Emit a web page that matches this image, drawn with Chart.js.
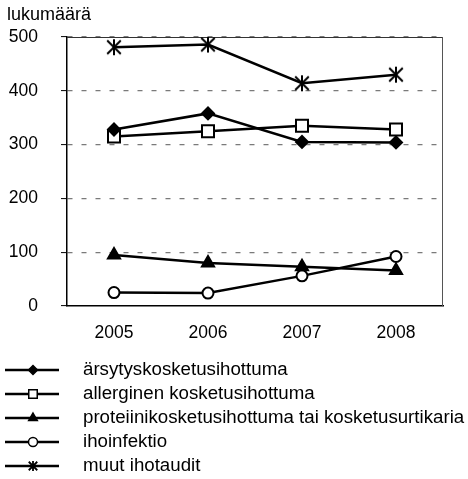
<!DOCTYPE html>
<html>
<head>
<meta charset="utf-8">
<script src="https://cdn.jsdelivr.net/npm/chart.js@4/dist/chart.umd.min.js"></script>
<style>
  html, body { margin: 0; padding: 0; background: #fff; }
  #wrap { width: 468px; height: 479px; position: relative; }
</style>
</head>
<body>
<div id="wrap"><canvas id="chart"></canvas></div>
<script>
// Data
const years = ['2005', '2006', '2007', '2008'];
const seriesNames = [
    'ärsytyskosketusihottuma',
    'allerginen kosketusihottuma',
    'proteiinikosketusihottuma tai kosketusurtikaria',
    'ihoinfektio',
    'muut ihotaudit'
];
const arsytys = [328, 358, 305, 304];
const allerginen = [315, 325, 335, 328];
const proteiini = [95, 80, 73, 66];
const ihoinfektio = [25, 24, 56, 92];
const muut = [481, 486, 414, 430];
const yTicks = [0, 100, 200, 300, 400, 500];

const FONT = "'Liberation Sans', Arial, sans-serif";

// Excel-like asterisk marker: an X plus a vertical stroke
function makeAsterisk(r, lw) {
    const size = Math.ceil(r * 2 + lw * 2);
    const c = document.createElement('canvas');
    c.width = size;
    c.height = size;
    const g = c.getContext('2d');
    const m = size / 2;
    g.strokeStyle = '#000';
    g.lineWidth = lw;
    g.lineCap = 'butt';
    g.beginPath();
    g.moveTo(m, m - r); g.lineTo(m, m + r);
    g.moveTo(m - r * 0.85, m - r * 0.85); g.lineTo(m + r * 0.85, m + r * 0.85);
    g.moveTo(m + r * 0.85, m - r * 0.85); g.lineTo(m - r * 0.85, m + r * 0.85);
    g.stroke();
    return c;
}
const starBig = makeAsterisk(8, 2);
const starSmall = makeAsterisk(5, 1.8);

// marker look per series: chart markers and smaller legend markers
const markers = [
    { style: 'rectRot', radius: 6, fill: '#000', legendRadius: 4.5 },
    { style: 'rect', radius: 8.5, fill: '#fff', legendRadius: 6 },
    { style: 'triangle', radius: 7, fill: '#000', legendRadius: 5 },
    { style: 'circle', radius: 5.5, fill: '#fff', legendRadius: 4.5 },
    { style: starBig, radius: 7, fill: '#000', legendRadius: 4.5, legendStyle: starSmall }
];

const values = [arsytys, allerginen, proteiini, ihoinfektio, muut];

const datasets = values.map((v, i) => ({
    label: seriesNames[i],
    data: v,
    borderColor: '#000',
    borderWidth: 2.5,
    pointStyle: markers[i].style,
    pointRadius: markers[i].radius,
    pointHoverRadius: markers[i].radius,
    pointBackgroundColor: markers[i].fill,
    pointBorderColor: '#000',
    pointBorderWidth: 2,
    tension: 0,
    fill: false
}));

// draws the frame, the axis title and the legend below the plot
const extras = {
    id: 'extras',
    beforeDatasetsDraw(chart) {
        const ctx = chart.ctx;
        const a = chart.chartArea;
        ctx.save();
        ctx.lineWidth = 1;
        ctx.strokeStyle = '#333';
        ctx.beginPath();
        ctx.moveTo(a.left, a.top + 0.5);
        ctx.lineTo(a.right, a.top + 0.5);
        ctx.stroke();
        ctx.strokeStyle = '#555';
        ctx.beginPath();
        ctx.moveTo(a.right - 0.5, a.top);
        ctx.lineTo(a.right - 0.5, a.bottom);
        ctx.stroke();
        ctx.restore();
    },
    afterDraw(chart) {
        const ctx = chart.ctx;
        ctx.save();
        ctx.fillStyle = '#000';
        ctx.font = '18px ' + FONT;
        ctx.textBaseline = 'middle';
        ctx.textAlign = 'left';
        ctx.fillText('lukumäärä', 7, 15);

        // legend
        ctx.font = '18.7px ' + FONT;
        chart.data.datasets.forEach((ds, i) => {
            const y = 370 + i * 24;
            ctx.strokeStyle = '#000';
            ctx.lineWidth = 2.5;
            ctx.beginPath();
            ctx.moveTo(5, y);
            ctx.lineTo(59, y);
            ctx.stroke();
            ctx.fillStyle = markers[i].fill;
            ctx.lineWidth = 1.5;
            Chart.helpers.drawPoint(ctx, {
                pointStyle: markers[i].legendStyle || markers[i].style,
                radius: markers[i].legendRadius,
                borderWidth: 1.5,
                rotation: 0
            }, 33, y);
            ctx.fillStyle = '#000';
            ctx.fillText(ds.label, 83, y);
        });
        ctx.restore();
    }
};

new Chart(document.getElementById('chart'), {
    type: 'line',
    data: { labels: years, datasets: datasets },
    options: {
        responsive: true,
        maintainAspectRatio: false,
        animation: false,
        layout: { padding: { left: 0, right: 25, top: 37, bottom: 0 } },
        plugins: {
            legend: { display: false },
            tooltip: { enabled: false }
        },
        scales: {
            x: {
                offset: true,
                grid: { display: false, drawTicks: false },
                border: { display: true, color: '#000', width: 1.5 },
                ticks: {
                    color: '#000',
                    font: { family: FONT, size: 17.5 },
                    padding: 17,
                    maxRotation: 0
                },
                afterFit(scale) { scale.height = 173; }
            },
            y: {
                min: 0,
                max: 500,
                afterBuildTicks(scale) {
                    scale.ticks = yTicks.map(v => ({ value: v }));
                },
                grid: {
                    color: ctx => ctx.tick && ctx.tick.value === 0 ? 'rgba(0,0,0,0)' : '#7a7a7a',
                    lineWidth: 1.2,
                    tickColor: '#000',
                    tickLength: 6,
                    tickWidth: 1
                },
                border: { display: true, color: '#000', width: 1.5, dash: [5, 9] },
                ticks: {
                    color: '#000',
                    font: { family: FONT, size: 17.5 },
                    padding: 23
                },
                afterFit(scale) { scale.width = 67; }
            }
        }
    },
    plugins: [extras]
});
</script>
</body>
</html>
